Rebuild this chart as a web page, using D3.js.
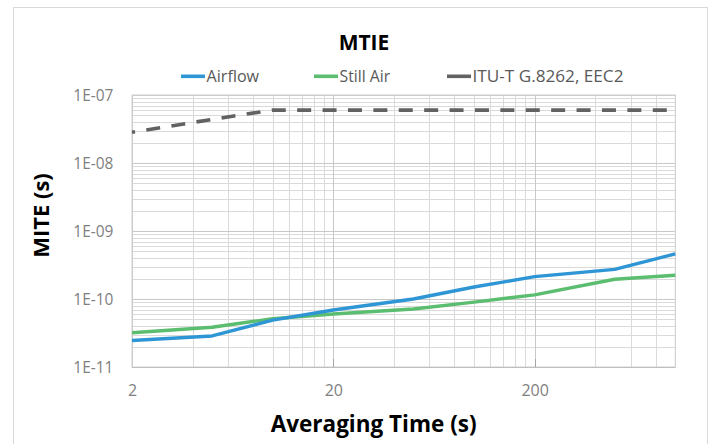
<!DOCTYPE html>
<html><head><meta charset="utf-8">
<script src="https://cdn.jsdelivr.net/npm/d3@7"></script>
<style>
html,body{margin:0;padding:0;background:#fff;}
svg{display:block;font-family:"Open Sans",sans-serif;}
</style></head>
<body><svg id="c" width="721" height="444"></svg>
<script>
// ---- data ----
const tau = [2, 5, 10, 20, 50, 100, 200, 500, 1000];
const airflow = [2.45e-11, 2.86e-11, 4.9e-11, 6.9e-11, 1.0e-10, 1.5e-10, 2.13e-10, 2.73e-10, 4.6e-10];
const stillAir = [3.19e-11, 3.84e-11, 5.13e-11, 6.02e-11, 7.13e-11, 9.0e-11, 1.15e-10, 1.95e-10, 2.23e-10];
const eec2Mask = [2.83e-8, 4.38e-8, 6.0e-8, 6.0e-8, 6.0e-8, 6.0e-8, 6.0e-8, 6.0e-8, 6.0e-8];
const seriesNames = ["Airflow", "Still Air", "ITU-T G.8262, EEC2"];
const xTickValues = [2, 20, 200];
const xTickLabels = ["2", "20", "200"];
const yTickValues = [1e-11, 1e-10, 1e-9, 1e-8, 1e-7];
const yTickLabels = ["1E-11", "1E-10", "1E-09", "1E-08", "1E-07"];
const titleText = "MTIE";
const xTitle = "Averaging Time (s)";
const yTitle = "MITE (s)";

// ---- layout ----
const L = 132, R = 675.3, T = 95, B = 367;
const svg = d3.select("#c");

// chart frame
svg.append("rect").attr("x", 13.5).attr("y", 7.5).attr("width", 694).attr("height", 445)
  .attr("fill", "#fff").attr("stroke", "#d9d9d9").attr("stroke-width", 1);

const x = d3.scaleLog().domain([2, 1000]).range([L, R]);
const y = d3.scaleLog().domain([1e-11, 1e-7]).range([B, T]);

// gridlines
const g = svg.append("g");
const xMinor = [];
for (let e = 0; e < 3; e++) for (let k = 2; k <= 9; k++) { const v = 2 * k * Math.pow(10, e); if (v <= 1000) xMinor.push(v); }
const yMinor = [];
for (let e = -11; e < -7; e++) for (let k = 2; k <= 9; k++) yMinor.push(k * Math.pow(10, e));

g.selectAll(".xm").data(xMinor).enter().append("line")
  .attr("x1", d => Math.round(x(d)) + 0.5).attr("x2", d => Math.round(x(d)) + 0.5)
  .attr("y1", T).attr("y2", B).attr("stroke", "#dadada").attr("stroke-width", 1);
g.selectAll(".ym").data(yMinor).enter().append("line")
  .attr("y1", d => Math.round(y(d)) + 0.5).attr("y2", d => Math.round(y(d)) + 0.5)
  .attr("x1", L).attr("x2", R).attr("stroke", "#dadada").attr("stroke-width", 1);
g.selectAll(".xM").data(xTickValues).enter().append("line")
  .attr("x1", d => Math.round(x(d)) + 0.5).attr("x2", d => Math.round(x(d)) + 0.5)
  .attr("y1", T).attr("y2", B).attr("stroke", "#c8c8c8").attr("stroke-width", 1);
g.selectAll(".yM").data(yTickValues).enter().append("line")
  .attr("y1", d => Math.round(y(d)) + 0.5).attr("y2", d => Math.round(y(d)) + 0.5)
  .attr("x1", L).attr("x2", R).attr("stroke", "#c8c8c8").attr("stroke-width", 1);
// plot border
svg.append("rect").attr("x", L).attr("y", T).attr("width", R - L).attr("height", B - T)
  .attr("fill", "none").attr("stroke", "#d0d0d0").attr("stroke-width", 1);
// axis line + inside ticks
svg.append("line").attr("x1", L).attr("x2", R).attr("y1", B + 0.5).attr("y2", B + 0.5).attr("stroke", "#bfbfbf");
svg.selectAll(".xt").data(xTickValues.slice(1)).enter().append("line")
  .attr("x1", d => Math.round(x(d)) + 0.5).attr("x2", d => Math.round(x(d)) + 0.5)
  .attr("y1", B - 8).attr("y2", B).attr("stroke", "#a6a6a6");

// axes (labels only) via d3 axes
const xAxis = d3.axisBottom(x).tickValues(xTickValues).tickFormat((d, i) => xTickLabels[i]).tickSize(0).tickPadding(18);
const xa = svg.append("g").attr("transform", `translate(0,${B})`).call(xAxis);
xa.select(".domain").remove();
xa.selectAll("text").attr("fill", "#7f7f7f").style("font-size", "16px").style("font-family", "'Open Sans',sans-serif");

const yAxis = d3.axisLeft(y).tickValues(yTickValues).tickFormat((d, i) => yTickLabels[i]).tickSize(0).tickPadding(18.7);
const ya = svg.append("g").attr("transform", `translate(${L},0)`).call(yAxis);
ya.select(".domain").remove();
ya.selectAll("text").attr("fill", "#7f7f7f").style("font-size", "16px").style("font-family", "'Open Sans',sans-serif")
  .attr("textLength", 40).attr("lengthAdjust", "spacingAndGlyphs");

// series
const line = vals => d3.line().x((d, i) => x(tau[i])).y(d => y(d))(vals);
svg.append("path").attr("d", line(eec2Mask)).attr("fill", "none")
  .attr("stroke", "#626262").attr("stroke-width", 3.6)
  .attr("stroke-dasharray", "14,11.4").attr("stroke-dashoffset", 10.9);
svg.append("path").attr("d", line(stillAir)).attr("fill", "none")
  .attr("stroke", "#5bbd6f").attr("stroke-width", 3.4).attr("stroke-linejoin", "round");
svg.append("path").attr("d", line(airflow)).attr("fill", "none")
  .attr("stroke", "#2f96d6").attr("stroke-width", 3.4).attr("stroke-linejoin", "round");

// title
svg.append("text").attr("x", 364).attr("y", 50).attr("text-anchor", "middle")
  .style("font-size", "21px").style("font-weight", "bold").attr("fill", "#000").text(titleText);

// legend
const legendColors = ["#2f96d6", "#5bbd6f", "#626262"];
const legendX = [181, 314, 447];
const legendW = [52.6, 50.7, 151];
const lg = svg.append("g");
seriesNames.forEach((n, i) => {
  lg.append("line").attr("x1", legendX[i]).attr("x2", legendX[i] + 24).attr("y1", 76.3).attr("y2", 76.3)
    .attr("stroke", legendColors[i]).attr("stroke-width", 3.6);
  lg.append("text").attr("x", legendX[i] + 25.5).attr("y", 81.7).attr("fill", "#595959")
    .style("font-size", "17px").attr("textLength", legendW[i]).attr("lengthAdjust", "spacingAndGlyphs").text(n);
});

// axis titles
svg.append("text").attr("x", 373.7).attr("y", 431.5).attr("text-anchor", "middle")
  .style("font-size", "22.5px").style("font-weight", "bold").attr("fill", "#000").text(xTitle);
svg.append("text").attr("transform", "translate(49,215.5) rotate(-90)").attr("text-anchor", "middle")
  .style("font-size", "22px").style("font-weight", "bold").attr("fill", "#000").text(yTitle);
</script></body></html>
